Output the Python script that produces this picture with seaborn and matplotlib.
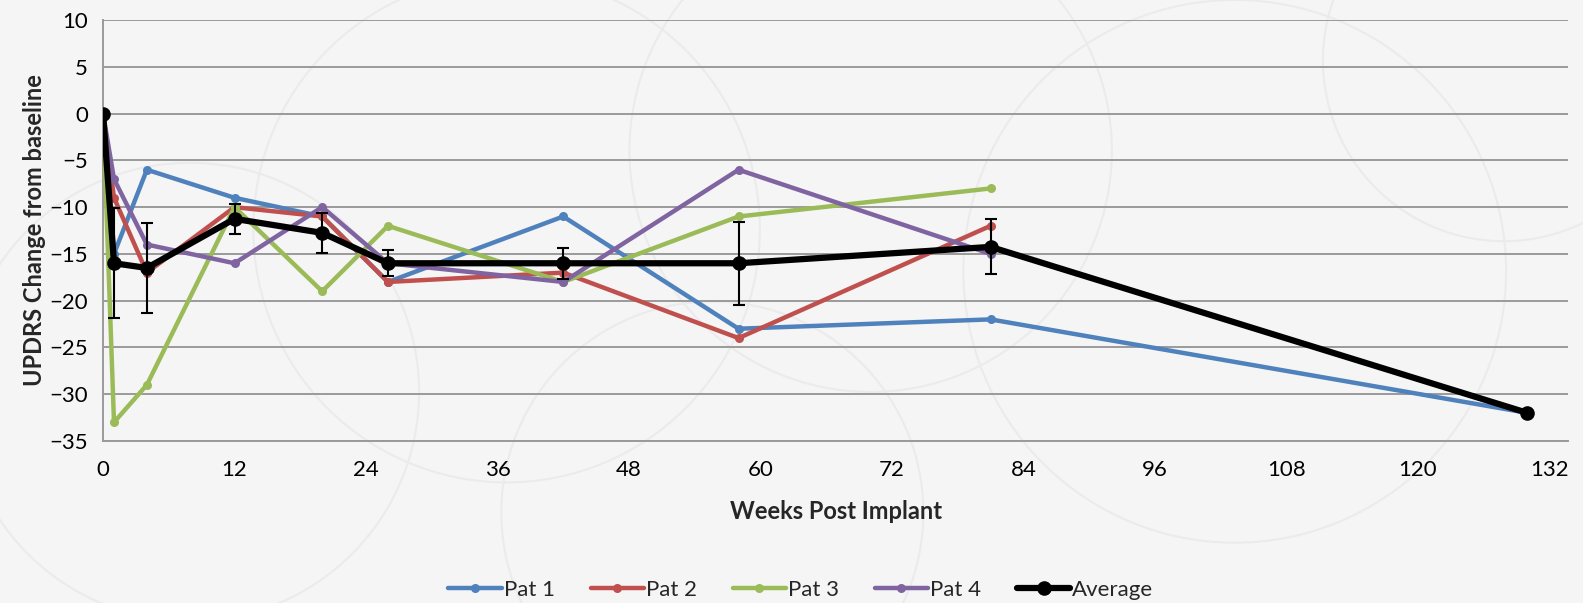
import numpy as np
import pandas as pd
import matplotlib
matplotlib.use("Agg")
import matplotlib.pyplot as plt
from matplotlib.patches import Circle
import seaborn as sns

# ---------------------------------------------------------
# data
# ---------------------------------------------------------
weeks = [0, 1, 4, 12, 20, 26, 42, 58, 81]
weeks_pat1 = [0, 1, 4, 12, 20, 26, 42, 58, 81, 130]

pat1 = [0, -15, -6, -9, -11, -18, -11, -23, -22, -32]
pat2 = [0, -9, -17, -10, -11, -18, -17, -24, -12]
pat3 = [0, -33, -29, -10, -19, -12, -18, -11, -8]
pat4 = [0, -7, -14, -16, -10, -16, -18, -6, -15]

avg_weeks = [0, 1, 4, 12, 20, 26, 42, 58, 81, 130]
average = [0, -16, -16.5, -11.25, -12.75, -16, -16, -16, -14.25, -32]
avg_err = [0, 5.9, 4.77, 1.6, 2.1, 1.41, 1.68, 4.45, 2.95, 0]

series_names = ["Pat 1", "Pat 2", "Pat 3", "Pat 4"]
colors = ["#4F81BD", "#C0504D", "#9BBB59", "#8064A2"]

x_ticks = list(range(0, 133, 12))
y_ticks = list(range(-35, 11, 5))

# ---------------------------------------------------------
# long-form table
# ---------------------------------------------------------
rows = []
for name, xs, ys in zip(series_names,
                        [weeks_pat1, weeks, weeks, weeks],
                        [pat1, pat2, pat3, pat4]):
    for x, y in zip(xs, ys):
        rows.append({"week": x, "change": y, "series": name})
df = pd.DataFrame(rows)
df_avg = pd.DataFrame({"week": avg_weeks, "change": average})

# ---------------------------------------------------------
# plot
# ---------------------------------------------------------
sns.set_style("white")
plt.rcParams["font.family"] = ["Lato", "DejaVu Sans"]

fig = plt.figure(figsize=(15.83, 6.03), dpi=100)
fig.patch.set_facecolor("#f5f5f5")

# faint decorative background circles, on their own axes behind everything
bg = fig.add_axes([0, 0, 1, 1], zorder=-10)
bg.set_xlim(0, 15.83)
bg.set_ylim(0, 6.03)
bg.set_aspect("equal")
bg.axis("off")
for cx, cy, r in [(0.32, 0.62, 0.42), (0.55, 0.75, 0.40), (0.12, 0.35, 0.38),
                  (0.78, 0.55, 0.45), (0.45, 0.15, 0.35), (0.95, 0.9, 0.3)]:
    bg.add_patch(Circle((cx * 15.83, cy * 6.03), r * 6.03, fill=False,
                        edgecolor="#ebebeb", linewidth=1.5))

ax = fig.add_axes([0.0651, 0.2687, 0.9254, 0.698])
ax.set_facecolor("none")

for name, col in zip(series_names, colors):
    sns.lineplot(data=df[df["series"] == name], x="week", y="change",
                 color=col, marker="o", markersize=6.5, markeredgewidth=0,
                 linewidth=3.2, sort=False, label=name, ax=ax, zorder=3)

ax.errorbar(avg_weeks, average, yerr=avg_err, fmt="none", ecolor="black",
            elinewidth=1.5, capsize=4.5, capthick=1.5, zorder=4)
sns.lineplot(data=df_avg, x="week", y="change", color="black", marker="o",
             markersize=10.5, markeredgewidth=0, linewidth=4.5, sort=False,
             label="Average", ax=ax, zorder=5)

ax.set_xlim(0, 133.7)
ax.set_ylim(-35, 10)
ax.set_xticks(x_ticks)
ax.set_yticks(y_ticks)
ax.yaxis.grid(True, color="#9a9a9a", linewidth=1.4)
ax.set_axisbelow(True)

for s in ["top", "right"]:
    ax.spines[s].set_visible(False)
for s in ["left", "bottom"]:
    ax.spines[s].set_color("#9a9a9a")
    ax.spines[s].set_linewidth(1.4)

ax.tick_params(axis="both", direction="out", length=6, width=1.4,
               color="#9a9a9a", labelsize=16, labelcolor="black")
ax.tick_params(axis="x", pad=8)
ax.tick_params(axis="y", pad=5)

ax.set_xlabel("Weeks Post Implant", fontsize=17, fontweight="bold", labelpad=14)
ax.set_ylabel("UPDRS Change from baseline", fontsize=17, fontweight="bold",
              labelpad=2)

handles, labels = ax.get_legend_handles_labels()
ax.get_legend().remove()
fig.legend(handles, labels, loc="center", bbox_to_anchor=(0.506, 0.022),
           ncol=5, frameon=False, fontsize=16, handlelength=2.4,
           handletextpad=0.1, columnspacing=1.6)

fig.savefig("out.png", dpi=100, facecolor=fig.get_facecolor())
